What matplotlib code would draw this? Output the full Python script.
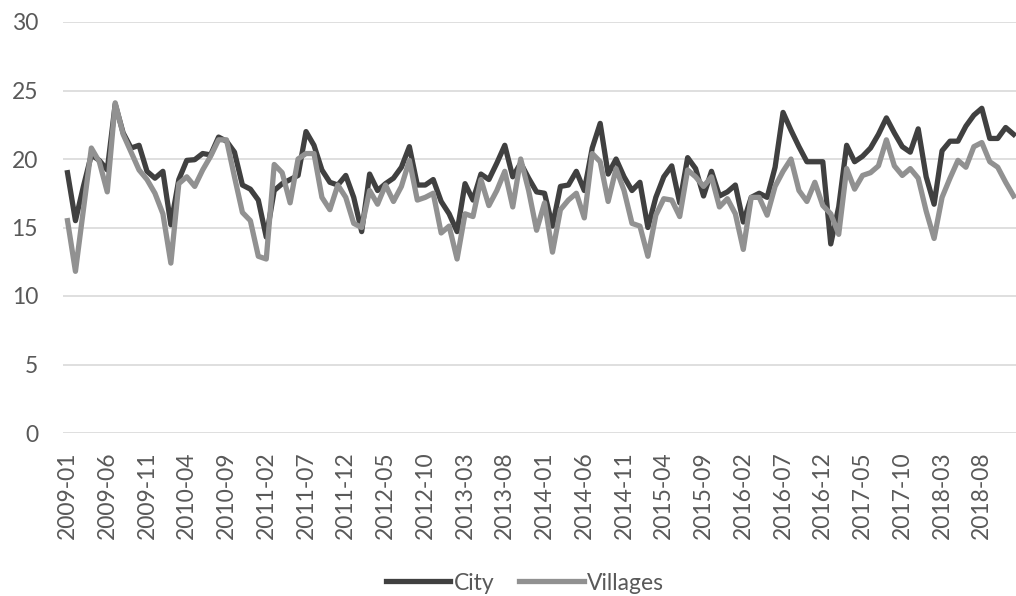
import matplotlib
matplotlib.use("Agg")
import matplotlib.pyplot as plt

city = [
    19.0, 15.5, 18.0, 20.3, 19.9, 19.2, 24.0, 21.9, 20.8, 21.0,
    19.1, 18.6, 19.1, 15.2, 18.5, 19.9, 19.95, 20.4, 20.3, 21.6,
    21.3, 20.5, 18.1, 17.8, 17.0, 14.3, 17.7, 18.2, 18.5, 18.8,
    22.0, 21.0, 19.2, 18.3, 18.1, 18.8, 17.2, 14.7, 18.9, 17.7,
    18.2, 18.6, 19.4, 20.9, 18.1, 18.1, 18.5, 16.9, 16.0, 14.7,
    18.2, 17.0, 18.9, 18.5, 19.7, 21.0, 18.7, 19.7, 18.6, 17.6,
    17.5, 15.1, 18.0, 18.1, 19.1, 17.7, 20.8, 22.6, 18.9, 20.0,
    18.7, 17.7, 18.3, 15.0, 17.2, 18.7, 19.5, 16.8, 20.1, 19.3,
    17.3, 19.1, 17.3, 17.6, 18.1, 15.4, 17.2, 17.5, 17.2, 19.4,
    23.4, 22.1, 20.9, 19.8, 19.8, 19.8, 13.8, 16.5, 21.0, 19.8,
    20.2, 20.8, 21.8, 23.0, 21.9, 20.9, 20.5, 22.2, 18.7, 16.7,
    20.6, 21.3, 21.3, 22.4, 23.2, 23.7, 21.5, 21.5, 22.3, 21.8,
]

villages = [
    15.5, 11.8, 16.3, 20.8, 19.8, 17.6, 24.1, 21.8, 20.5, 19.2,
    18.5, 17.5, 16.0, 12.4, 18.2, 18.7, 18.0, 19.2, 20.2, 21.4,
    21.4, 18.7, 16.1, 15.5, 12.9, 12.7, 19.6, 19.0, 16.8, 20.0,
    20.4, 20.4, 17.2, 16.3, 18.1, 17.2, 15.3, 15.0, 17.7, 16.7,
    18.1, 16.9, 18.0, 19.9, 17.0, 17.2, 17.5, 14.6, 15.1, 12.7,
    16.0, 15.8, 18.5, 16.6, 17.7, 19.1, 16.5, 20.0, 17.7, 14.8,
    16.8, 13.2, 16.3, 17.0, 17.5, 15.7, 20.4, 19.8, 16.9, 19.3,
    17.7, 15.3, 15.1, 12.9, 15.9, 17.1, 17.0, 15.8, 19.2, 18.7,
    18.0, 18.7, 16.5, 17.1, 16.0, 13.4, 17.2, 17.2, 15.9, 18.0,
    19.1, 20.0, 17.7, 16.9, 18.3, 16.6, 16.0, 14.5, 19.3, 17.8,
    18.8, 19.0, 19.5, 21.4, 19.5, 18.8, 19.3, 18.6, 16.2, 14.2,
    17.2, 18.6, 19.9, 19.4, 20.9, 21.2, 19.8, 19.4, 18.3, 17.3,
]

tick_labels = [
    "2009-01", "2009-06", "2009-11", "2010-04", "2010-09", "2011-02",
    "2011-07", "2011-12", "2012-05", "2012-10", "2013-03", "2013-08",
    "2014-01", "2014-06", "2014-11", "2015-04", "2015-09", "2016-02",
    "2016-07", "2016-12", "2017-05", "2017-10", "2018-03", "2018-08",
]
tick_step = 5
y_ticks = [0, 5, 10, 15, 20, 25, 30]

TEXT = "#595959"
FONT = ["Lato", "DejaVu Sans"]
FS = 16.5

W, H = 1016, 596
fig = plt.figure(figsize=(W / 100, H / 100), dpi=100)
ax = fig.add_axes([63 / W, (H - 433) / H, (W - 63) / W, (433 - 22) / H])

x = list(range(len(city)))
ax.plot(x, city, color="#404040", lw=3.8, solid_joinstyle="round",
        label="City", zorder=3)
ax.plot(x, villages, color="#919191", lw=3.8, solid_joinstyle="round",
        label="Villages", zorder=4)

ax.set_xlim(-0.566, 119.3)
ax.set_ylim(0, 30)
ax.set_yticks(y_ticks)
ax.set_xticks(x[::tick_step])
ax.set_xticklabels(tick_labels, rotation=90, fontsize=FS, color=TEXT,
                   family=FONT)
ax.set_yticklabels([str(v) for v in y_ticks], fontsize=FS, color=TEXT,
                   family=FONT)
ax.tick_params(axis="both", length=0)
ax.tick_params(axis="x", pad=13)
ax.tick_params(axis="y", pad=18)
ax.grid(axis="y", color="#d9d9d9", lw=1.2, zorder=0)
ax.set_axisbelow(True)
for s in ax.spines.values():
    s.set_visible(False)

leg = fig.legend(loc="center", bbox_to_anchor=(525 / W, 1 - 583 / H),
                 ncol=2, frameon=False, handlelength=2.8, handletextpad=0.15,
                 columnspacing=1.1, prop={"family": FONT, "size": FS})
for t in leg.get_texts():
    t.set_color(TEXT)

fig.savefig("out.png", dpi=100)
